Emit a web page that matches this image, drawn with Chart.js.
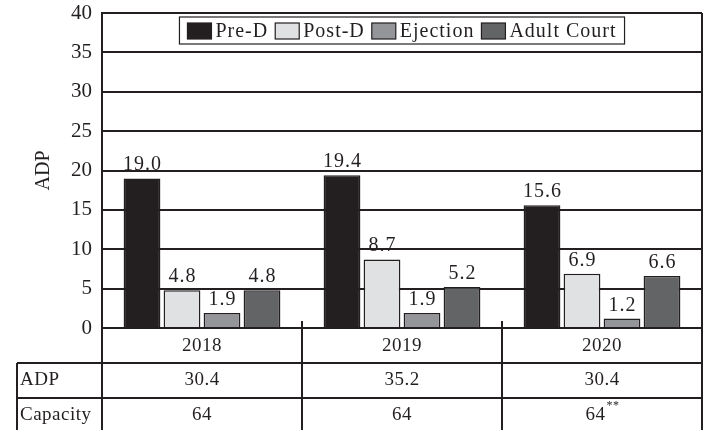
<!DOCTYPE html>
<html>
<head>
<meta charset="utf-8">
<script src="https://cdn.jsdelivr.net/npm/chart.js@4"></script>
<style>
html, body { margin: 0; padding: 0; background: #fff; }
#wrap { width: 707px; height: 430px; }
</style>
</head>
<body>
<div id="wrap"><canvas id="chart"></canvas></div>
<script>
// categories and series
const years = ["2018", "2019", "2020"];
const preD = [19.0, 19.4, 15.6];
const postD = [4.8, 8.7, 6.9];
const ejection = [1.9, 1.9, 1.2];
const adultCourt = [4.8, 5.2, 6.6];

// table under the chart
const rowLabels = ["ADP", "Capacity"];
const adpTotals = ["30.4", "35.2", "30.4"];
const capacity = ["64", "64", "64"];
const capacityNotes = ["", "", "**"];

const INK = "#231f20";
const FONT = "'Liberation Serif', 'Times New Roman', serif";

// labels above each bar
const valueLabels = {
    id: "valueLabels",
    afterDatasetsDraw(chart) {
        const ctx = chart.ctx;
        ctx.save();
        ctx.font = "20px " + FONT;
        ctx.letterSpacing = "1px";
        ctx.fillStyle = INK;
        ctx.textAlign = "center";
        ctx.textBaseline = "alphabetic";
        chart.data.datasets.forEach((ds, i) => {
            chart.getDatasetMeta(i).data.forEach((bar, j) => {
                ctx.fillText(ds.data[j].toFixed(1), bar.x + 0.5, bar.y - 8);
            });
        });
        ctx.restore();
    }
};

// legend box inside the plot
const boxLegend = {
    id: "boxLegend",
    afterDraw(chart) {
        const ctx = chart.ctx;
        const area = chart.chartArea;
        ctx.save();
        ctx.font = "20px " + FONT;
        ctx.letterSpacing = "1px";
        const sw = 24, gap = 4, pad = 8, space = 7;
        let total = pad * 2;
        const items = chart.data.datasets.map(ds => {
            const w = ctx.measureText(ds.label).width;
            total += sw + gap + w;
            return { ds, w };
        });
        total += space * (items.length - 1);
        const top = area.top + 4, h = 27;
        let x = (area.left + area.right) / 2 - total / 2;
        ctx.fillStyle = "#fff";
        ctx.fillRect(x, top, total, h);
        ctx.strokeStyle = INK;
        ctx.lineWidth = 1.2;
        ctx.strokeRect(x, top, total, h);
        x += pad;
        ctx.textBaseline = "middle";
        items.forEach(it => {
            ctx.fillStyle = it.ds.backgroundColor;
            ctx.fillRect(x, top + 6, sw, 16);
            ctx.strokeStyle = INK;
            ctx.lineWidth = 1.2;
            ctx.strokeRect(x, top + 6, sw, 16);
            ctx.fillStyle = INK;
            ctx.fillText(it.ds.label, x + sw + gap, top + h / 2 + 1);
            x += sw + gap + it.w + space;
        });
        ctx.restore();
    }
};

// table of totals below the x axis
const totalsTable = {
    id: "totalsTable",
    afterDraw(chart) {
        const ctx = chart.ctx;
        const area = chart.chartArea;
        const xs = chart.scales.x;
        const bottom = chart.height;
        const row1 = area.bottom + 35, row2 = area.bottom + 70;
        const left = 17;
        ctx.save();
        ctx.strokeStyle = INK;
        ctx.lineWidth = 2;
        const line = (x1, y1, x2, y2) => {
            ctx.beginPath();
            ctx.moveTo(x1, y1);
            ctx.lineTo(x2, y2);
            ctx.stroke();
        };
        // frame
        line(area.right, area.top, area.right, bottom);
        line(area.left, area.bottom, area.left, bottom);
        line(left, row1, area.right, row1);
        line(left, row2, area.right, row2);
        line(left, row1, left, bottom);
        // category separators
        for (let i = 0; i < years.length - 1; i++) {
            const mid = (xs.getPixelForTick(i) + xs.getPixelForTick(i + 1)) / 2;
            line(mid, area.bottom - 7, mid, bottom);
        }
        ctx.fillStyle = INK;
        ctx.letterSpacing = "0.5px";
        ctx.font = "19px " + FONT;
        ctx.textBaseline = "middle";
        ctx.textAlign = "left";
        ctx.fillText(rowLabels[0], left + 3, (row1 + row2) / 2);
        ctx.fillText(rowLabels[1], left + 3, (row2 + bottom) / 2 + 1);
        ctx.textAlign = "center";
        years.forEach((y, i) => {
            const cx = xs.getPixelForTick(i);
            ctx.font = "19px " + FONT;
            ctx.fillText(y, cx, (area.bottom + row1) / 2 + 1);
            ctx.fillText(adpTotals[i], cx, (row1 + row2) / 2);
            const note = capacityNotes[i];
            const w = ctx.measureText(capacity[i]).width;
            ctx.font = "12px " + FONT;
            const nw = note ? ctx.measureText(note).width : 0;
            const start = cx - (w + nw) / 2;
            ctx.font = "19px " + FONT;
            ctx.textAlign = "left";
            ctx.fillText(capacity[i], start, (row2 + bottom) / 2 + 1);
            if (note) {
                ctx.font = "12px " + FONT;
                ctx.fillText(note, start + w + 1, (row2 + bottom) / 2 - 8);
            }
            ctx.textAlign = "center";
        });
        ctx.restore();
    }
};

const bar = (label, data, color) => ({
    label,
    data,
    backgroundColor: color,
    borderColor: INK,
    borderWidth: 1.5,
    categoryPercentage: 0.8,
    barPercentage: 0.92
});

new Chart(document.getElementById("chart").getContext("2d"), {
    type: "bar",
    data: {
        labels: years,
        datasets: [
            bar("Pre-D", preD, INK),
            bar("Post-D", postD, "#e0e1e2"),
            bar("Ejection", ejection, "#939598"),
            bar("Adult Court", adultCourt, "#636466")
        ]
    },
    options: {
        responsive: true,
        maintainAspectRatio: false,
        animation: false,
        layout: { padding: { top: 0, right: 5, bottom: 102, left: 0 } },
        plugins: {
            legend: { display: false },
            tooltip: { enabled: false }
        },
        scales: {
            x: {
                ticks: { display: false },
                grid: { display: false, drawTicks: false },
                border: { display: true, color: INK, width: 2 },
                afterFit(scale) { scale.height = 0; }
            },
            y: {
                min: 0,
                max: 40,
                ticks: { stepSize: 5, padding: 10, color: INK, font: { family: FONT, size: 21 } },
                grid: { color: INK, lineWidth: 2, drawTicks: false },
                border: { display: true, color: INK, width: 2 },
                title: {
                    display: true,
                    text: "ADP",
                    color: INK,
                    font: { family: FONT, size: 20 },
                    padding: { top: 32, bottom: 0 }
                },
                afterFit(scale) {
                    scale.width = 102;
                    scale.paddingTop = 13;
                    scale.paddingBottom = 0;
                }
            }
        }
    },
    plugins: [valueLabels, boxLegend, totalsTable]
});
</script>
</body>
</html>
